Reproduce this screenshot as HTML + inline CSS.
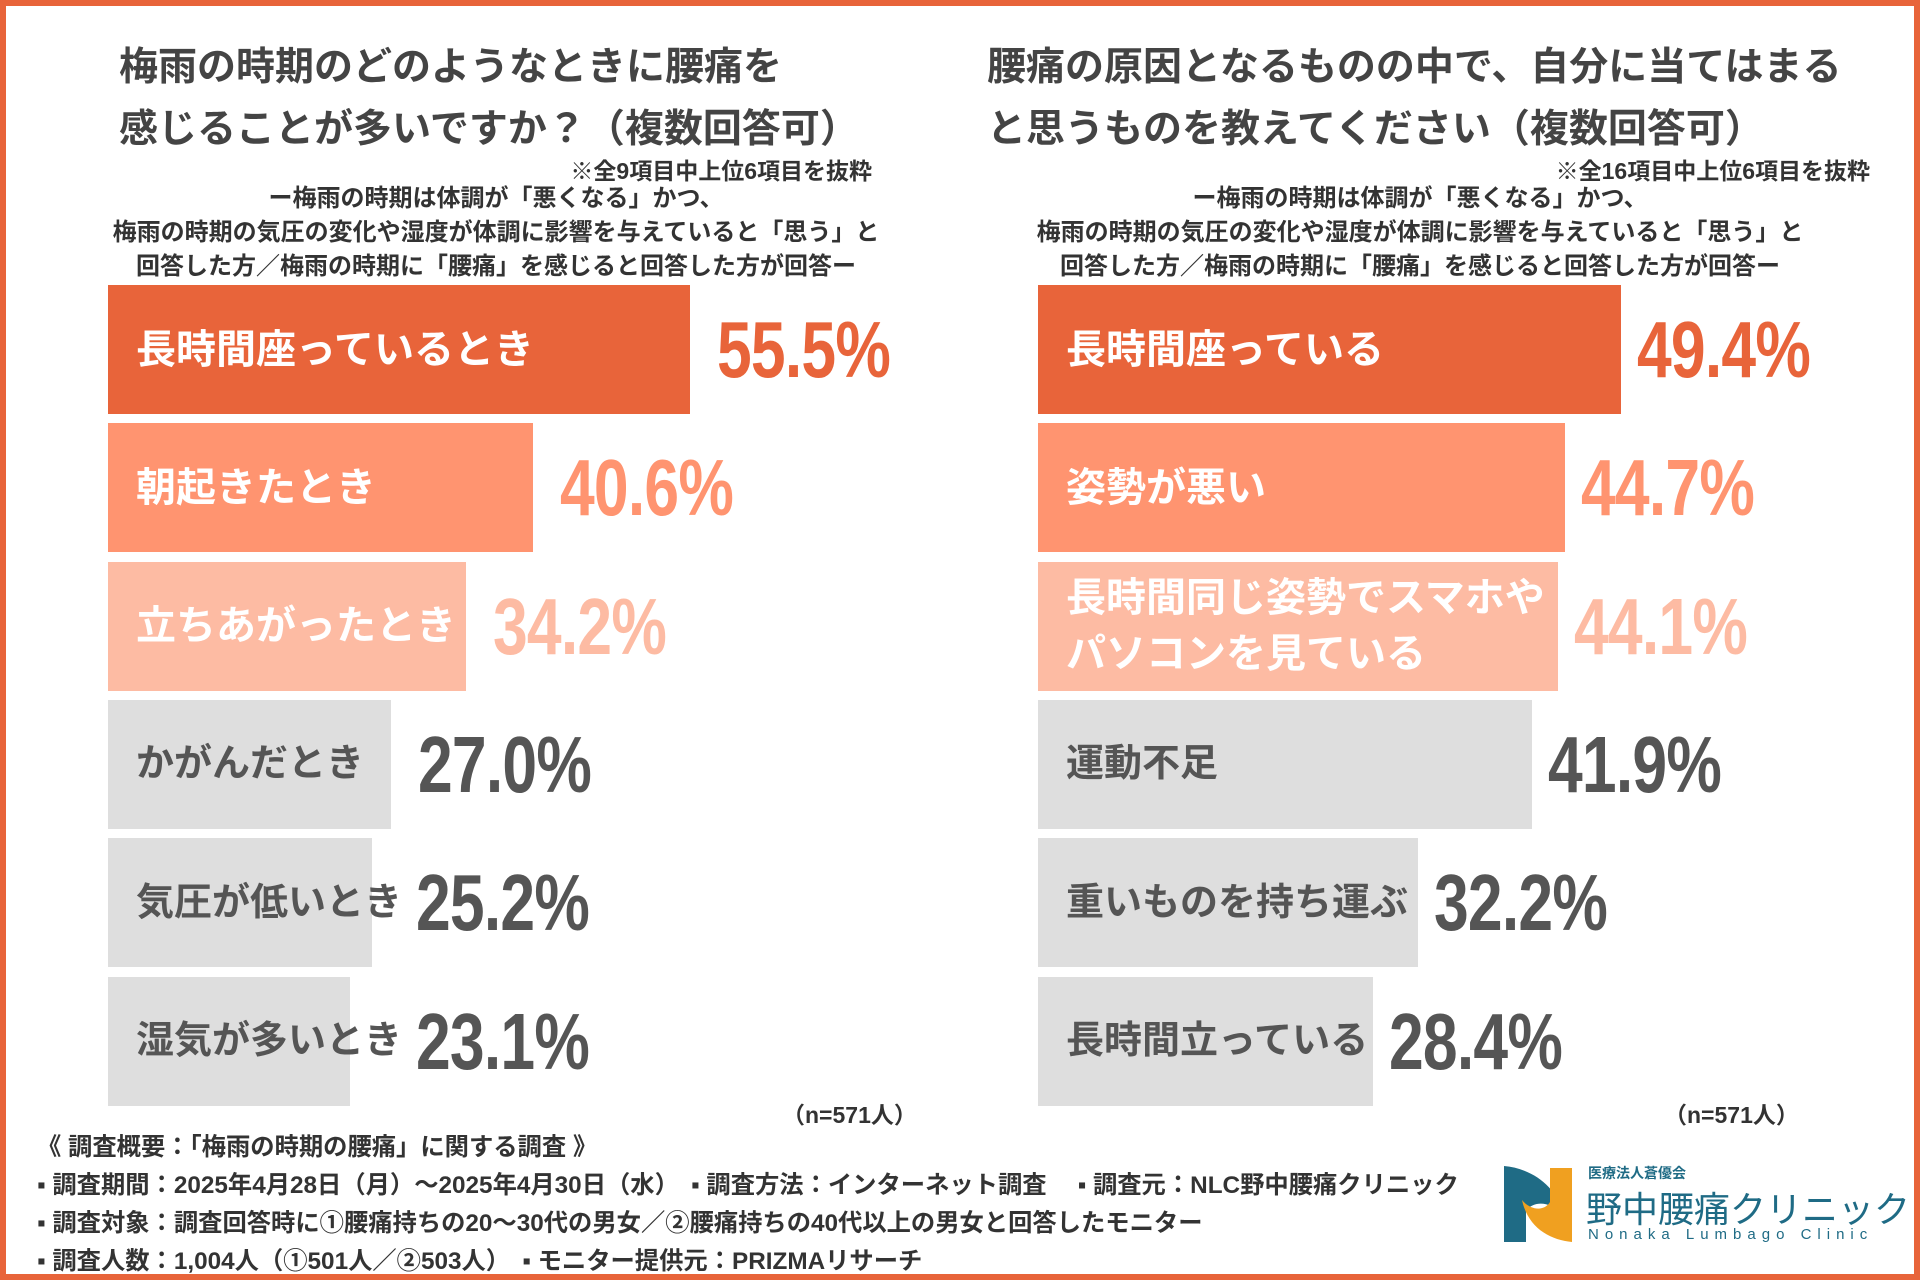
<!DOCTYPE html>
<html><head><meta charset="utf-8">
<style>
*{margin:0;padding:0;box-sizing:border-box}
body{width:1920px;height:1280px;overflow:hidden;background:#fff;font-family:"Liberation Sans","Noto Sans CJK JP",sans-serif;color:#444;position:relative}
#frame{position:absolute;left:0;top:0;width:1920px;height:1280px;border:6px solid #E8643A}
.t{position:absolute;white-space:nowrap;font-weight:bold}
.title{font-size:39px;color:#444}
.note{font-size:23px;color:#333}
.sub{font-size:24px;color:#333;text-align:center;line-height:34px}
.bar{position:absolute;height:129px}
.lab{position:absolute;font-weight:bold;font-size:40px;white-space:nowrap}
.val{position:absolute;font-family:"Liberation Sans","Noto Sans CJK JP",sans-serif;font-weight:bold;font-size:80px;white-space:nowrap;line-height:129px;letter-spacing:-1px;transform:scaleX(0.78);transform-origin:left center}
.foot{font-size:24.3px;color:#333;left:37px}
</style></head><body>
<div id="frame"></div>

<div class="t title" style="left:119px;top:36px">梅雨の時期のどのようなときに腰痛を</div>
<div class="t title" style="left:119px;top:98px">感じることが多いですか？（複数回答可）</div>
<div class="t note" style="right:1048px;top:152px">※全9項目中上位6項目を抜粋</div>
<div class="t sub" style="left:46px;width:900px;top:182px">ー梅雨の時期は体調が「悪くなる」かつ、<br>梅雨の時期の気圧の変化や湿度が体調に影響を与えていると「思う」と<br>回答した方／梅雨の時期に「腰痛」を感じると回答した方が回答ー</div>

<div class="t title" style="left:987px;top:36px">腰痛の原因となるものの中で、自分に当てはまる</div>
<div class="t title" style="left:987px;top:98px">と思うものを教えてください（複数回答可）</div>
<div class="t note" style="right:50px;top:152px">※全16項目中上位6項目を抜粋</div>
<div class="t sub" style="left:970px;width:900px;top:182px">ー梅雨の時期は体調が「悪くなる」かつ、<br>梅雨の時期の気圧の変化や湿度が体調に影響を与えていると「思う」と<br>回答した方／梅雨の時期に「腰痛」を感じると回答した方が回答ー</div>

<div id="chartL"></div>
<div id="chartR"></div>

<div class="t" style="left:782px;top:1096px;font-size:23px;color:#333">（n=571人）</div>
<div class="t" style="left:1664px;top:1096px;font-size:23px;color:#333">（n=571人）</div>

<div class="t foot" style="top:1127px">《 調査概要：「梅雨の時期の腰痛」に関する調査 》</div>
<div class="t foot" style="top:1165px">▪ 調査期間：2025年4月28日（月）～2025年4月30日（水）　▪ 調査方法：インターネット調査　 ▪ 調査元：NLC野中腰痛クリニック</div>
<div class="t foot" style="top:1203px">▪ 調査対象：調査回答時に①腰痛持ちの20～30代の男女／②腰痛持ちの40代以上の男女と回答したモニター</div>
<div class="t foot" style="top:1241px">▪ 調査人数：1,004人（①501人／②503人）　▪ モニター提供元：PRIZMAリサーチ</div>

<div style="position:absolute;left:1496px;top:1163px;width:400px;height:82px">
<svg width="76" height="78" style="position:absolute;left:4px;top:3px">
<path d="M4,0 C30,2 58,20 62,48 C50,36 36,34 26,44 L26,76 L4,76 Z" fill="#1F6B85"/>
<path d="M72,2 L72,76 C50,74 28,62 22,34 C30,44 44,46 50,36 L50,2 Z" fill="#F0A020"/>
</svg>
<div class="t" style="left:92px;top:0;font-size:14px;color:#1F6B85">医療法人蒼優会</div>
<div class="t" style="left:90px;top:18px;font-size:36px;font-weight:normal;color:#1F6B85">野中腰痛クリニック</div>
<div class="t" style="left:92px;top:63px;font-size:15px;font-weight:normal;color:#1F6B85;letter-spacing:6px">Nonaka Lumbago Clinic</div>
</div>

<script>
const leftCategories=["長時間座っているとき","朝起きたとき","立ちあがったとき","かがんだとき","気圧が低いとき","湿気が多いとき"];
const leftValues=[55.5,40.6,34.2,27.0,25.2,23.1];
const rightCategories=["長時間座っている","姿勢が悪い","長時間同じ姿勢でスマホや<br>パソコンを見ている","運動不足","重いものを持ち運ぶ","長時間立っている"];
const rightValues=[49.4,44.7,44.1,41.9,32.2,28.4];
const barColors=["#E8643A","#FF9470","#FDBBA3","#DEDEDE","#DEDEDE","#DEDEDE"];
const valColors=["#E8643A","#FF9470","#FDBBA3","#555555","#555555","#555555"];
const labColors=["#fff","#fff","#fff","#555","#555","#555"];

function drawChart(id,cats,vals,x0,pxPer,gap){
  const root=document.getElementById(id);
  const yScale=i=>285+i*138.3;
  const xScale=v=>v*pxPer;
  cats.forEach((c,i)=>{
    const w=xScale(vals[i]);const y=yScale(i);
    const b=document.createElement('div');
    b.className='bar';
    
    
    b.style.cssText=`left:${x0}px;top:${y}px;width:${w}px;background:${barColors[i]}`;
    root.appendChild(b);
    const l=document.createElement('div');
    l.className='lab';
    
    
    l.innerHTML=c;
    l.style.cssText=`left:${x0+28}px;top:${y}px;height:129px;display:flex;align-items:center;color:${labColors[i]};line-height:56px;font-size:${i>=3?38:40}px`;
    root.appendChild(l);
    const labRight=x0+28+l.offsetWidth;
    const v=document.createElement('div');
    v.className='val';
    
    
    v.textContent=vals[i].toFixed(1)+'%';
    v.style.left=Math.max(x0+w+gap,labRight+14)+'px';
    v.style.top=y+'px';
    v.style.color=valColors[i];
    root.appendChild(v);
  });
}
drawChart('chartL',leftCategories,leftValues,108,10.48,27);
drawChart('chartR',rightCategories,rightValues,1038,11.8,16);
</script>
</body></html>
